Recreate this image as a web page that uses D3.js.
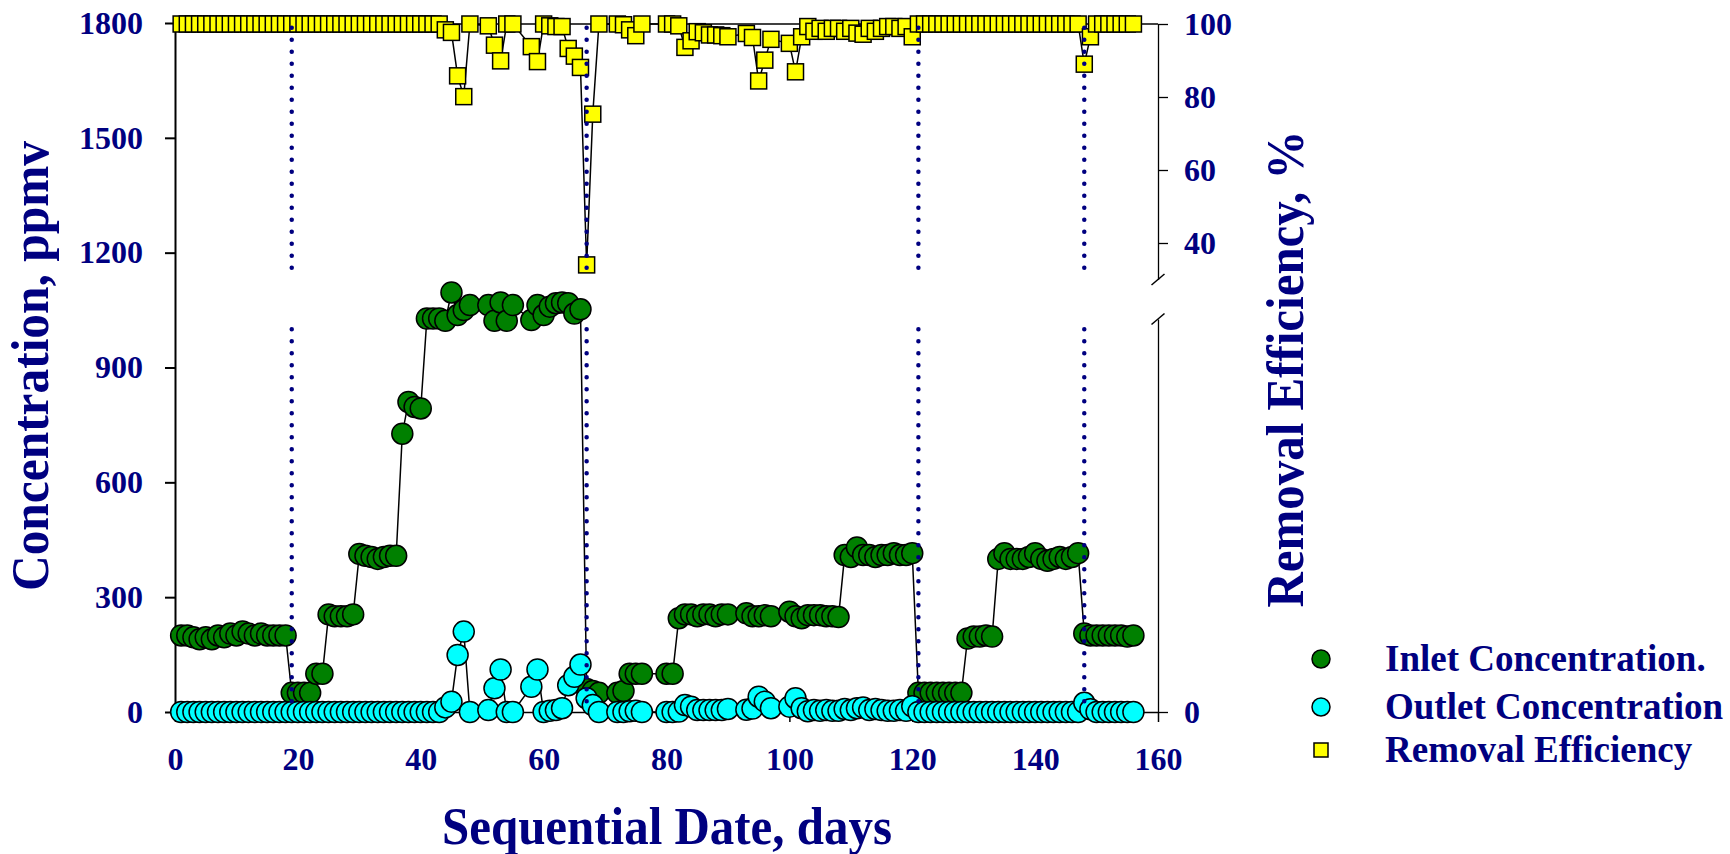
<!DOCTYPE html>
<html>
<head>
<meta charset="utf-8">
<script src="https://cdn.jsdelivr.net/npm/d3@7"></script>
<style>
  html, body { margin: 0; padding: 0; background: #fff; }
  svg text { font-family: "Liberation Serif", "Times New Roman", serif; font-weight: bold; fill: #000080; }
</style>
</head>
<body>
<svg id="chart" width="1730" height="854"></svg>
<script>
// sampling days (gaps where no sample was taken)
const days = [
  1,2,3,4,5,6,7,8,9,10,11,12,13,14,15,16,17,18,19,20,21,22,23,24,25,26,27,28,29,30,
  31,32,33,34,35,36,37,38,39,40,41,42,43,44,45,46,47,48,
  51,52,53,54,55,
  58,59,60,61,62,63,64,65,66,67,68,69,
  72,73,74,75,76,
  80,81,82,83,84,85,86,87,88,89,90,
  93,94,95,96,97,
  100,101,102,103,104,105,106,107,108,109,110,111,112,113,114,115,116,117,118,119,120,
  121,122,123,124,125,126,127,128,129,130,131,132,133,134,135,136,137,138,139,140,
  141,142,143,144,145,146,147,148,149,150,151,152,153,154,155,156
];

// inlet concentration, ppmv
const inlet = [
  200,200,195,190,195,190,200,195,205,200,210,205,200,205,200,200,200,200,
  50,50,50,50, 100,100, 255,250,250,250,255,
  413,408,405,400,405,408,408, 727,810,797,793,
  1028,1028,1028,1022, 1096,1037,1050,1063,
  1063,1022,1070,1022,1063,
  1024,1063,1037,1059,1068,1070,1068,1041,1052, 60,55,50,
  50,55,100,100,100,
  100,100,245,255,255,250,255,255,250,255,255,
  258,250,250,253,250,
  262,250,245,253,253,253,250,250,248,
  410,405,430,410,410,405,410,410,415,410,410,415,
  50,50,50,50,50,50,50,50,
  192,197,197,200,197,
  400,415,400,400,400,405,415,400,395,400,405,400,405,415,
  205,200,200,200,200,200,200,197,200
];

// outlet concentration, ppmv
const outlet = [
  0,0,0,0,0,0,0,0,0,0,0,0,0,0,0,0,0,0,0,0,0,0,0,0,0,0,0,0,0,0,
  0,0,0,0,0,0,0,0,0,0,0,0,0, 12,27,149,210,0,
  5,62,111,0,0,
  66,111,0,3,5,10,70,92,124,36,18,0,
  0,0,2,3,0,
  0,0,1,18,14,5,5,5,5,5,8,
  6,9,40,27,10,
  14,36,10,2,5,3,5,3,3,8,5,10,12,5,8,5,3,3,5,3,15,
  0,0,0,0,0,0,0,0,0,0,0,0,0,0,0,0,0,0,0,0,0,0,0,0,0,0,0,
  24,7, 0,0,0,0,0,0,0
];

// removal efficiency, %
const efficiency = [
  100,100,100,100,100,100,100,100,100,100,100,100,100,100,100,100,100,100,100,100,
  100,100,100,100,100,100,100,100,100,100,100,100,100,100,100,100,100,100,100,100,
  100,100,100, 98.4,97.7,85.8,80.1,100,
  99.5,94.2,89.9,100,100,
  93.8,89.7,100,99.5,99.3,99.3,93.3,91.2,88.1,34,75.3,100,
  100,99.8,98.4,96.8,100,
  100,100,99.5,93.6,95.4,97.9,97.6,97,97,96.8,96.5,
  97.4,96.3,84.4,90.1,95.8,
  94.7,86.9,96.5,99.3,98,98.8,98,98.8,98.8,98,98.8,97.5,97.2,98.8,98,98.8,99.3,99.3,98.8,99.3,96.5,
  100,100,100,100,100,100,100,100,100,100,100,100,100,100,100,100,100,100,100,100,
  100,100,100,100,100,100,100,
  89,96.5, 100,100,100,100,100,100,100
];

const phaseDays = [19, 67, 121, 148];
const xTicks = [0, 20, 40, 60, 80, 100, 120, 140, 160];
const concTicks = [0, 300, 600, 900, 1200, 1500, 1800];
const effTicks = [40, 60, 80, 100];
const legendItems = ["Inlet Concentration.", "Outlet Concentration", "Removal Efficiency"];

const NAVY = "#000080";
const fmt = d3.format("d");
const svg = d3.select("#chart");

const x = d3.scaleLinear().domain([0, 160]).range([175, 1158]);
const yC = d3.scaleLinear().domain([0, 1800]).range([712, 23]);
const yE = d3.scaleLinear().domain([30, 100]).range([279.5, 24]);
const yLow = d3.scaleLinear().domain([0, 1]).range([712, 319]);

const rows = days.map((d, i) => ({ day: d, inlet: inlet[i], outlet: outlet[i], eff: efficiency[i] }));

function styleAxis(g, width) {
  g.selectAll("path.domain").attr("stroke", "#000").attr("stroke-width", width);
  g.selectAll(".tick line").attr("stroke", "#000").attr("stroke-width", width);
  g.selectAll("text").attr("fill", NAVY).style("font-size", "32px").attr("font-family", null);
}

// axes
const gx = svg.append("g").attr("transform", `translate(0,${yC(0)})`)
  .call(d3.axisBottom(x).tickValues(xTicks).tickFormat(fmt).tickSize(10).tickSizeOuter(0).tickPadding(25));
styleAxis(gx, 1.5);
gx.selectAll("text").attr("dy", "0.71em");

const gl = svg.append("g").attr("transform", `translate(${x(0)},0)`)
  .call(d3.axisLeft(yC).tickValues(concTicks).tickFormat(fmt).tickSize(10).tickSizeOuter(0).tickPadding(22));
styleAxis(gl, 2);

const gr = svg.append("g").attr("transform", `translate(${x(160)},0)`)
  .call(d3.axisRight(yE).tickValues(effTicks).tickFormat(fmt).tickSize(10).tickSizeOuter(0).tickPadding(16));
styleAxis(gr, 1.3);
const gr2 = svg.append("g").attr("transform", `translate(${x(160)},0)`)
  .call(d3.axisRight(yLow).tickValues([0]).tickFormat(fmt).tickSize(10).tickSizeOuter(0).tickPadding(16));
styleAxis(gr2, 1.3);

// break marks on right axis
[yE(30), yLow(1)].forEach(yy => {
  svg.append("line").attr("x1", x(160) - 6.5).attr("y1", yy + 5.5)
    .attr("x2", x(160) + 6.5).attr("y2", yy - 5.5)
    .attr("stroke", "#000").attr("stroke-width", 1.5);
});

// top border of efficiency panel
svg.append("line").attr("x1", x(0)).attr("x2", x(160))
  .attr("y1", yE(100)).attr("y2", yE(100)).attr("stroke", "#000").attr("stroke-width", 1.5);

// connecting lines
const lineStyle = p => p.attr("fill", "none").attr("stroke", "#000").attr("stroke-width", 1.5);
svg.append("path").datum(rows).call(lineStyle)
  .attr("d", d3.line().x(d => x(d.day)).y(d => yC(d.inlet)));
svg.append("path").datum(rows).call(lineStyle)
  .attr("d", d3.line().x(d => x(d.day)).y(d => yC(d.outlet)));
svg.append("path").datum(rows).call(lineStyle)
  .attr("d", d3.line().x(d => x(d.day)).y(d => yE(d.eff)));

// markers
svg.append("g").selectAll("circle").data(rows).join("circle")
  .attr("cx", d => x(d.day)).attr("cy", d => yC(d.inlet)).attr("r", 10.5)
  .attr("fill", "#008000").attr("stroke", "#000").attr("stroke-width", 1.5);
svg.append("g").selectAll("circle").data(rows).join("circle")
  .attr("cx", d => x(d.day)).attr("cy", d => yC(d.outlet)).attr("r", 10.5)
  .attr("fill", "#00ffff").attr("stroke", "#000").attr("stroke-width", 1.5);
const sq = 16;
svg.append("g").selectAll("rect").data(rows).join("rect")
  .attr("x", d => x(d.day) - sq / 2).attr("y", d => yE(d.eff) - sq / 2)
  .attr("width", sq).attr("height", sq)
  .attr("fill", "#ffff00").attr("stroke", "#000").attr("stroke-width", 1.5);

// dotted phase lines (upper and lower panel)
phaseDays.forEach(d => {
  [[yE(99), yE(30)], [yC(1000), yC(0)]].forEach(([y1, y2]) => {
    svg.append("line").attr("x1", x(d)).attr("x2", x(d)).attr("y1", y1).attr("y2", y2)
      .attr("stroke", NAVY).attr("stroke-width", 4.5)
      .attr("stroke-linecap", "round").attr("stroke-dasharray", "0,12");
  });
});

// axis titles
svg.append("text").text("Concentration, ppmv")
  .attr("transform", "translate(48,366) rotate(-90)")
  .attr("text-anchor", "middle").attr("textLength", 450).attr("lengthAdjust", "spacingAndGlyphs")
  .style("font-size", "52px");
svg.append("text").text("Removal Efficiency, %")
  .attr("transform", "translate(1303,369) rotate(-90)")
  .attr("text-anchor", "middle").attr("textLength", 477).attr("lengthAdjust", "spacingAndGlyphs")
  .style("font-size", "52px");
svg.append("text").text("Sequential Date, days")
  .attr("x", 667).attr("y", 844)
  .attr("text-anchor", "middle").attr("textLength", 450).attr("lengthAdjust", "spacingAndGlyphs")
  .style("font-size", "52px");

// legend
const legY = [659, 707, 750];
const lg = svg.append("g");
lg.append("circle").attr("cx", 1321).attr("cy", legY[0]).attr("r", 9)
  .attr("fill", "#008000").attr("stroke", "#000").attr("stroke-width", 1.5);
lg.append("circle").attr("cx", 1321).attr("cy", legY[1]).attr("r", 9)
  .attr("fill", "#00ffff").attr("stroke", "#000").attr("stroke-width", 1.5);
lg.append("rect").attr("x", 1314).attr("y", legY[2] - 7).attr("width", 14).attr("height", 14)
  .attr("fill", "#ffff00").attr("stroke", "#000").attr("stroke-width", 1.5);
legendItems.forEach((t, i) => {
  lg.append("text").text(t).attr("x", 1385).attr("y", legY[i]).attr("dy", "0.33em")
    .style("font-size", "37px");
});
</script>
</body>
</html>
